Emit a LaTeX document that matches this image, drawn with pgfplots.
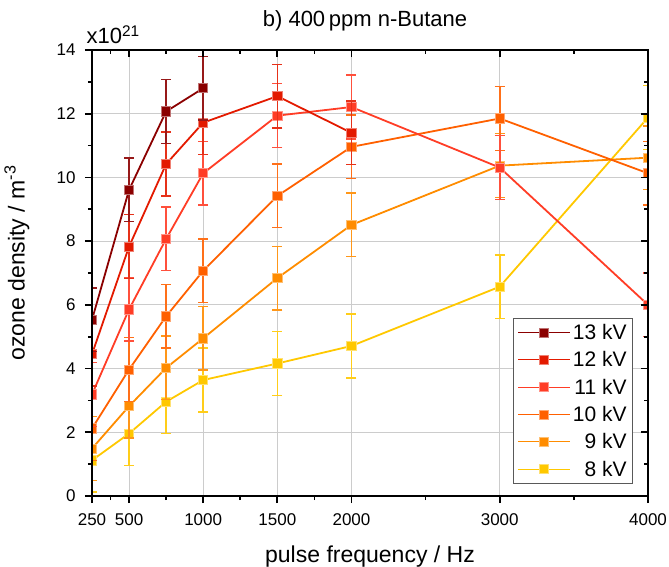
\documentclass[border=0pt]{standalone}
\usepackage{fontspec}
\setmainfont{Liberation Sans}
\usepackage{pgfplots}
\pgfplotsset{compat=1.18}
\definecolor{c13}{RGB}{139,0,0}
\definecolor{c12}{RGB}{227,26,0}
\definecolor{c11}{RGB}{255,61,38}
\definecolor{c10}{RGB}{255,96,0}
\definecolor{c9}{RGB}{255,140,0}
\definecolor{c8}{RGB}{255,200,0}
\pgfplotsset{
  ser/.style={color=#1, line width=1.8pt, mark=square*, mark size=4.6pt,
    mark options={fill=#1, draw=#1!55!white, line width=0.8pt, solid},
    error bars/.cd, y dir=both, y fixed=1,
    error mark options={rotate=90, mark size=5pt, line width=1.4pt, draw=#1!90!white},
    error bar style={line width=1.6pt, draw=#1!90!white}},
  common/.style={scale only axis, width=556pt, height=446pt,
    xmin=250, xmax=4000, ymin=0, ymax=14,
    xtick={250,500,1000,1500,2000,3000,4000},
    minor xtick={375,750,1250,1750,2500,3500},
    ytick={0,2,...,14}, minor ytick={1,3,...,13},
    major tick length=7pt, minor tick length=4pt,
    every tick/.style={black, line width=1.7pt},
    axis line style={line width=2pt},
    /pgf/number format/assume math mode=true,
    /pgf/number format/1000 sep={},
    tick label style={font=\fontsize{17}{17}\selectfont}},
}
\begin{document}
\begin{tikzpicture}
\useasboundingbox (-92pt,-70pt) rectangle (577pt,496pt);
\begin{axis}[common, name=ax,
  tick pos=left, tick align=outside,
  xticklabel style={yshift=-7pt},
  yticklabel style={xshift=-6pt},
  xmajorgrids, ymajorgrids, grid style={gray!40, line width=0.9pt},
  clip marker paths=true,
  xlabel={pulse frequency / Hz},
  ylabel={ozone density / m\textsuperscript{-3}},
  label style={font=\fontsize{23}{23}\selectfont},
  xlabel style={at={(axis description cs:0.5,0)}, anchor=base, yshift=-66pt},
  ylabel style={at={(axis description cs:-0.1349,0.5224)}, anchor=center},
  title={b) 400\,ppm n-Butane},
  title style={font=\fontsize{22}{22}\selectfont, at={(axis description cs:0.5,1)}, anchor=base, yshift=18pt, xshift=-5pt},
  reverse legend,
  legend cell align=right,
  legend style={at={(axis description cs:0.973,0.027)}, anchor=south east,
    draw=black!65, line width=0.9pt, fill=white,
    font=\fontsize{21}{21}\selectfont, row sep=6.6pt, inner sep=4pt},
  legend image code/.code={\draw[mark repeat=2,mark phase=2,#1,line width=1.2pt] plot coordinates {(0pt,0pt) (26pt,0pt) (52pt,0pt)};},
]
\addplot[ser=c8] coordinates {(250,1.12)(500,1.96)(750,2.96)(1000,3.64)(1500,4.16)(2000,4.71)(3000,6.57)(4000,11.88)};
\addlegendentry{8 kV}
\addplot[ser=c9] coordinates {(250,1.49)(500,2.82)(750,4.02)(1000,4.95)(1500,6.84)(2000,8.51)(3000,10.37)(4000,10.62)};
\addlegendentry{9 kV}
\addplot[ser=c10] coordinates {(250,2.12)(500,3.97)(750,5.64)(1000,7.07)(1500,9.42)(2000,10.96)(3000,11.85)(4000,10.13)};
\addlegendentry{10 kV}
\addplot[ser=c11] coordinates {(250,3.19)(500,5.86)(750,8.07)(1000,10.13)(1500,11.94)(2000,12.21)(3000,10.31)(4000,6.0)};
\addlegendentry{11 kV}
\addplot[ser=c12] coordinates {(250,4.45)(500,7.83)(750,10.42)(1000,11.72)(1500,12.55)(2000,11.40)};
\addlegendentry{12 kV}
\addplot[ser=c13] coordinates {(250,5.53)(500,9.61)(750,12.07)(1000,12.80)};
\addlegendentry{13 kV}
\end{axis}
\begin{axis}[common, tick pos=right, tick align=inside,
  xticklabels={}, yticklabels={}]
\end{axis}
\node[anchor=base west, font=\fontsize{22}{22}\selectfont] at ([xshift=-9pt, yshift=6pt]ax.north west) {x10\textsuperscript{21}};
\end{tikzpicture}
\end{document}
